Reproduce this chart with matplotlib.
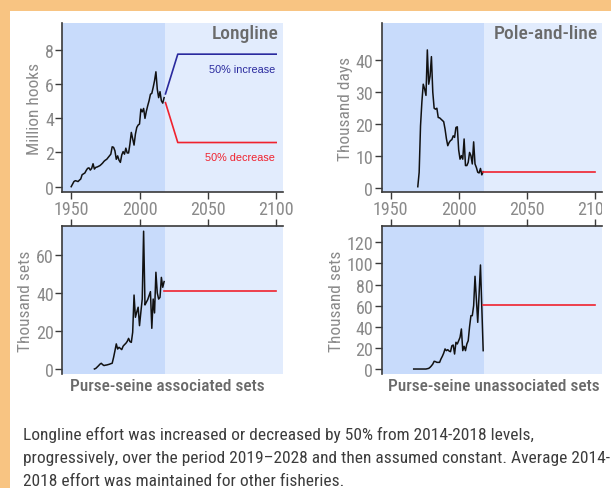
import numpy as np
import matplotlib
matplotlib.use('Agg')
import matplotlib.pyplot as plt
from matplotlib import font_manager
from matplotlib.font_manager import FontProperties
from matplotlib.patches import Rectangle
from matplotlib.transforms import Bbox, TransformedBbox, IdentityTransform


def condensed_face(weights):
    # look for an installed condensed/narrow sans face with a weight in the given range
    found = []
    for f in font_manager.fontManager.ttflist:
        narrow = (str(f.stretch) in ('condensed', 'semi-condensed', 'extra-condensed')
                  or 'Condensed' in f.name or 'Narrow' in f.name
                  or 'Condensed' in f.fname or 'Narrow' in f.fname)
        w = f.weight if isinstance(f.weight, int) else font_manager.weight_dict.get(f.weight, 400)
        if narrow and f.style == 'normal' and weights[0] <= w <= weights[1]:
            found.append(f)
    if not found:
        return None
    order = ['Noto Sans', 'Open Sans', 'Roboto', 'DejaVu Sans', 'Liberation Sans']
    found.sort(key=lambda f: (next((i for i, n in enumerate(order) if f.name.startswith(n)), 99),
                              'Extra' in f.fname, 'Semi' in f.fname, f.fname))
    return found[0].fname


reg_file = condensed_face((350, 450))
med_file = condensed_face((480, 560)) or reg_file
FP_REG = FontProperties(fname=reg_file) if reg_file else FontProperties(family='DejaVu Sans')
FP_MED = FontProperties(fname=med_file) if med_file else FontProperties(family='DejaVu Sans')

# longline effort, million hooks, 1950-2018
ll_years = np.arange(1950, 2019)
ll_hooks = [0.0, 0.15, 0.3, 0.35, 0.33, 0.3, 0.38, 0.45, 0.7, 0.75,
            0.8, 0.95, 1.07, 1.1, 0.97, 1.07, 1.34, 1.03, 1.13, 1.15,
            1.19, 1.23, 1.3, 1.38, 1.48, 1.55, 1.6, 1.7, 1.8, 1.9,
            2.33, 2.3, 2.1, 1.6, 1.8, 1.55, 1.42, 1.85, 2.05, 1.9,
            2.25, 1.97, 1.97, 2.5, 3.17, 2.8, 2.43, 3.07, 3.46, 3.6,
            3.66, 4.53, 4.37, 4.57, 3.99, 4.4, 4.73, 5.02, 5.4, 5.45,
            5.8, 6.19, 6.71, 5.7, 5.2, 5.55, 5.02, 4.88, 5.2]
ll_proj_years = [2019, 2028, 2100]
ll_increase = [5.42, 7.74, 7.74]
ll_decrease = [4.91, 2.58, 2.58]

# pole-and-line, thousand days, 1970-2018
pl_years = np.arange(1970, 2019)
pl_days = [0.5, 5, 19.5, 27, 32.5, 31, 29, 43.2, 32.5, 35,
           41.1, 30, 25, 24.7, 25, 22.1, 22, 21.6, 21.2, 20.8,
           18.5, 15.5, 13.3, 14.3, 14.9, 15.2, 16.4, 15.9, 19, 19.2,
           12, 9.1, 10.2, 9.1, 15.4, 7.1, 7.1, 8.1, 11.2, 10.2,
           7.6, 14.5, 7.6, 6.5, 5.0, 4.8, 6.2, 4.2, 5.2]
pl_proj = 5.0

# purse-seine associated sets, thousands, 1967-2018
psa_years = np.arange(1967, 2019)
psa_sets = [0, 0.3, 1.0, 1.7, 2.5, 3.0, 2.3, 1.8, 2.0, 2.1,
            2.3, 2.5, 2.8, 3.0, 6.0, 9.5, 13.2, 10.5, 11.4, 10.8,
            10.2, 12.0, 12.8, 13.5, 14.5, 16.1, 14.4, 14.0, 19.3, 38.9,
            27.2, 30, 32.5, 22.8, 30, 36.8, 72.5, 33.7, 35.1, 36.5,
            38.6, 40.7, 21.4, 36.8, 29.5, 50.9, 40, 36.8, 37.7, 48.2,
            43, 46]
psa_proj = 41.2

# purse-seine unassociated sets, thousands, 1967-2018
psu_years = np.arange(1967, 2019)
psu_sets = [0, 0, 0, 0, 0, 0, 0, 0, 0, 0,
            0.3, 0.6, 1.6, 3, 4.7, 7.3, 7, 6.3, 6.3, 6.3,
            9.5, 12, 15, 19, 17.4, 18.3, 17, 16.4, 22, 22.7,
            14.2, 25.3, 23.7, 26.8, 30, 37.9, 17.4, 21.5, 17.4, 23.7,
            26.8, 40, 50.5, 50.5, 60, 87.8, 66, 44.2, 71, 98.5,
            58, 17.4]
psu_proj = 60.6

proj_span = [2018, 2100]

DARK_SHADE = '#c8dbfb'
LIGHT_SHADE = '#e2ecfd'
GRAY = '#8a8a8a'
TITLE = '#6a6a6a'
SPINE = '#3a3a3a'
RED = '#f0222e'
BLUE = '#2a2a9e'

fig = plt.figure(figsize=(6.11, 4.89), dpi=100, facecolor='#f8c482')
fig.patches.append(Rectangle((10 / 611, 0), 1, 1 - 12 / 489, transform=fig.transFigure,
                             facecolor='white', edgecolor='none', zorder=-1))

W, H = 611, 489


def make_ax(left, top, right, bottom):
    return fig.add_axes([left / W, 1 - bottom / H, (right - left) / W, (bottom - top) / H])


ax_ll = make_ax(62.3, 24, 283, 193)
ax_pl = make_ax(381.7, 24, 601.7, 193)
ax_psa = make_ax(62.3, 226.7, 283, 375.3)
ax_psu = make_ax(381.7, 226.7, 601.7, 375.3)


def style(ax, top_row, ylim, yticks, ylabel):
    ax.set_facecolor(LIGHT_SHADE)
    ax.axvspan(1900, 2018.5, color=DARK_SHADE, lw=0, zorder=0)
    ax.set_xlim(1943.5, 2105)
    ax.set_ylim(*ylim)
    ax.set_xticks([1950, 2000, 2050, 2100])
    ax.set_yticks(yticks)
    ax.spines['right'].set_visible(False)
    for s in ['left', 'top', 'bottom']:
        ax.spines[s].set_color(SPINE)
        ax.spines[s].set_linewidth(1.2)
    if top_row:
        ax.spines['top'].set_visible(False)
        ax.tick_params(axis='x', length=5, width=1, color=SPINE, labelcolor=GRAY, pad=1)
    else:
        ax.spines['bottom'].set_visible(False)
        ax.xaxis.tick_top()
        ax.tick_params(axis='x', length=5, width=1, color=SPINE, labeltop=False)
    ax.tick_params(axis='y', length=5, width=1, color=SPINE, labelcolor=GRAY, pad=1)
    for lab in ax.get_xticklabels() + ax.get_yticklabels():
        lab.set_fontproperties(FP_REG)
        lab.set_fontsize(13)
    ax.set_ylabel(ylabel, color=GRAY, fontproperties=FP_REG, fontsize=12.5, labelpad=2)


style(ax_ll, True, (-0.31, 9.56), [0, 2, 4, 6, 8], 'Million hooks')
style(ax_pl, True, (-1.15, 51.6), [0, 10, 20, 30, 40], 'Thousand days')
style(ax_psa, False, (-2.8, 75.4), [0, 20, 40, 60], 'Thousand sets')
style(ax_psu, False, (-5.0, 135.7), [0, 20, 40, 60, 80, 100, 120], 'Thousand sets')

# right-hand year labels stop at the panel edge
edge = TransformedBbox(Bbox.from_extents(0, 0, 601.7, H), IdentityTransform())
for lab in ax_pl.get_xticklabels():
    lab.set_clip_box(edge)
    lab.set_clip_on(True)

# longline history and the two scenarios
ax_ll.plot(ll_years, ll_hooks, color='#111111', lw=1.1)
ax_ll.plot(ll_proj_years, ll_increase, color=BLUE, lw=1.2)
ax_ll.plot(ll_proj_years, ll_decrease, color=RED, lw=1.2)
ax_ll.text(2099, 6.9, '50% increase', color=BLUE, fontsize=7.8, ha='right', va='center',
           family='Liberation Sans')
ax_ll.text(2099, 1.75, '50% decrease', color=RED, fontsize=7.8, ha='right', va='center',
           family='Liberation Sans')
ax_ll.text(2102, 9.0, 'Longline', color=TITLE, fontproperties=FP_MED, fontsize=14,
           ha='right', va='center')

# other fisheries held at 2014-2018 average
ax_pl.plot(pl_years, pl_days, color='#111111', lw=1.1)
ax_pl.plot(proj_span, [pl_proj, pl_proj], color=RED, lw=1.2)
ax_pl.text(2102, 48.6, 'Pole-and-line', color=TITLE, fontproperties=FP_MED, fontsize=14,
           ha='right', va='center')

ax_psa.plot(psa_years, psa_sets, color='#111111', lw=1.1)
ax_psa.plot(proj_span, [psa_proj, psa_proj], color=RED, lw=1.2)

ax_psu.plot(psu_years, psu_sets, color='#111111', lw=1.1)
ax_psu.plot(proj_span, [psu_proj, psu_proj], color=RED, lw=1.2)

fig.text(167.5 / W, 1 - 387 / H, 'Purse-seine associated sets', color=TITLE,
         fontproperties=FP_MED, fontsize=12.5, ha='center', va='center')
fig.text(494 / W, 1 - 387 / H, 'Purse-seine unassociated sets', color=TITLE,
         fontproperties=FP_MED, fontsize=12.5, ha='center', va='center')

caption = ['Longline effort was increased or decreased by 50% from 2014-2018 levels,',
           'progressively, over the period 2019\u20132028 and then assumed constant. Average 2014-',
           '2018 effort was maintained for other fisheries.']
for i, line in enumerate(caption):
    fig.text(23 / W, 1 - (440 + 23 * i) / H, line, color='#3c3c3c', fontproperties=FP_REG,
             fontsize=12.5, ha='left', va='baseline')

fig.savefig('out.png', dpi=100, facecolor=fig.get_facecolor())
